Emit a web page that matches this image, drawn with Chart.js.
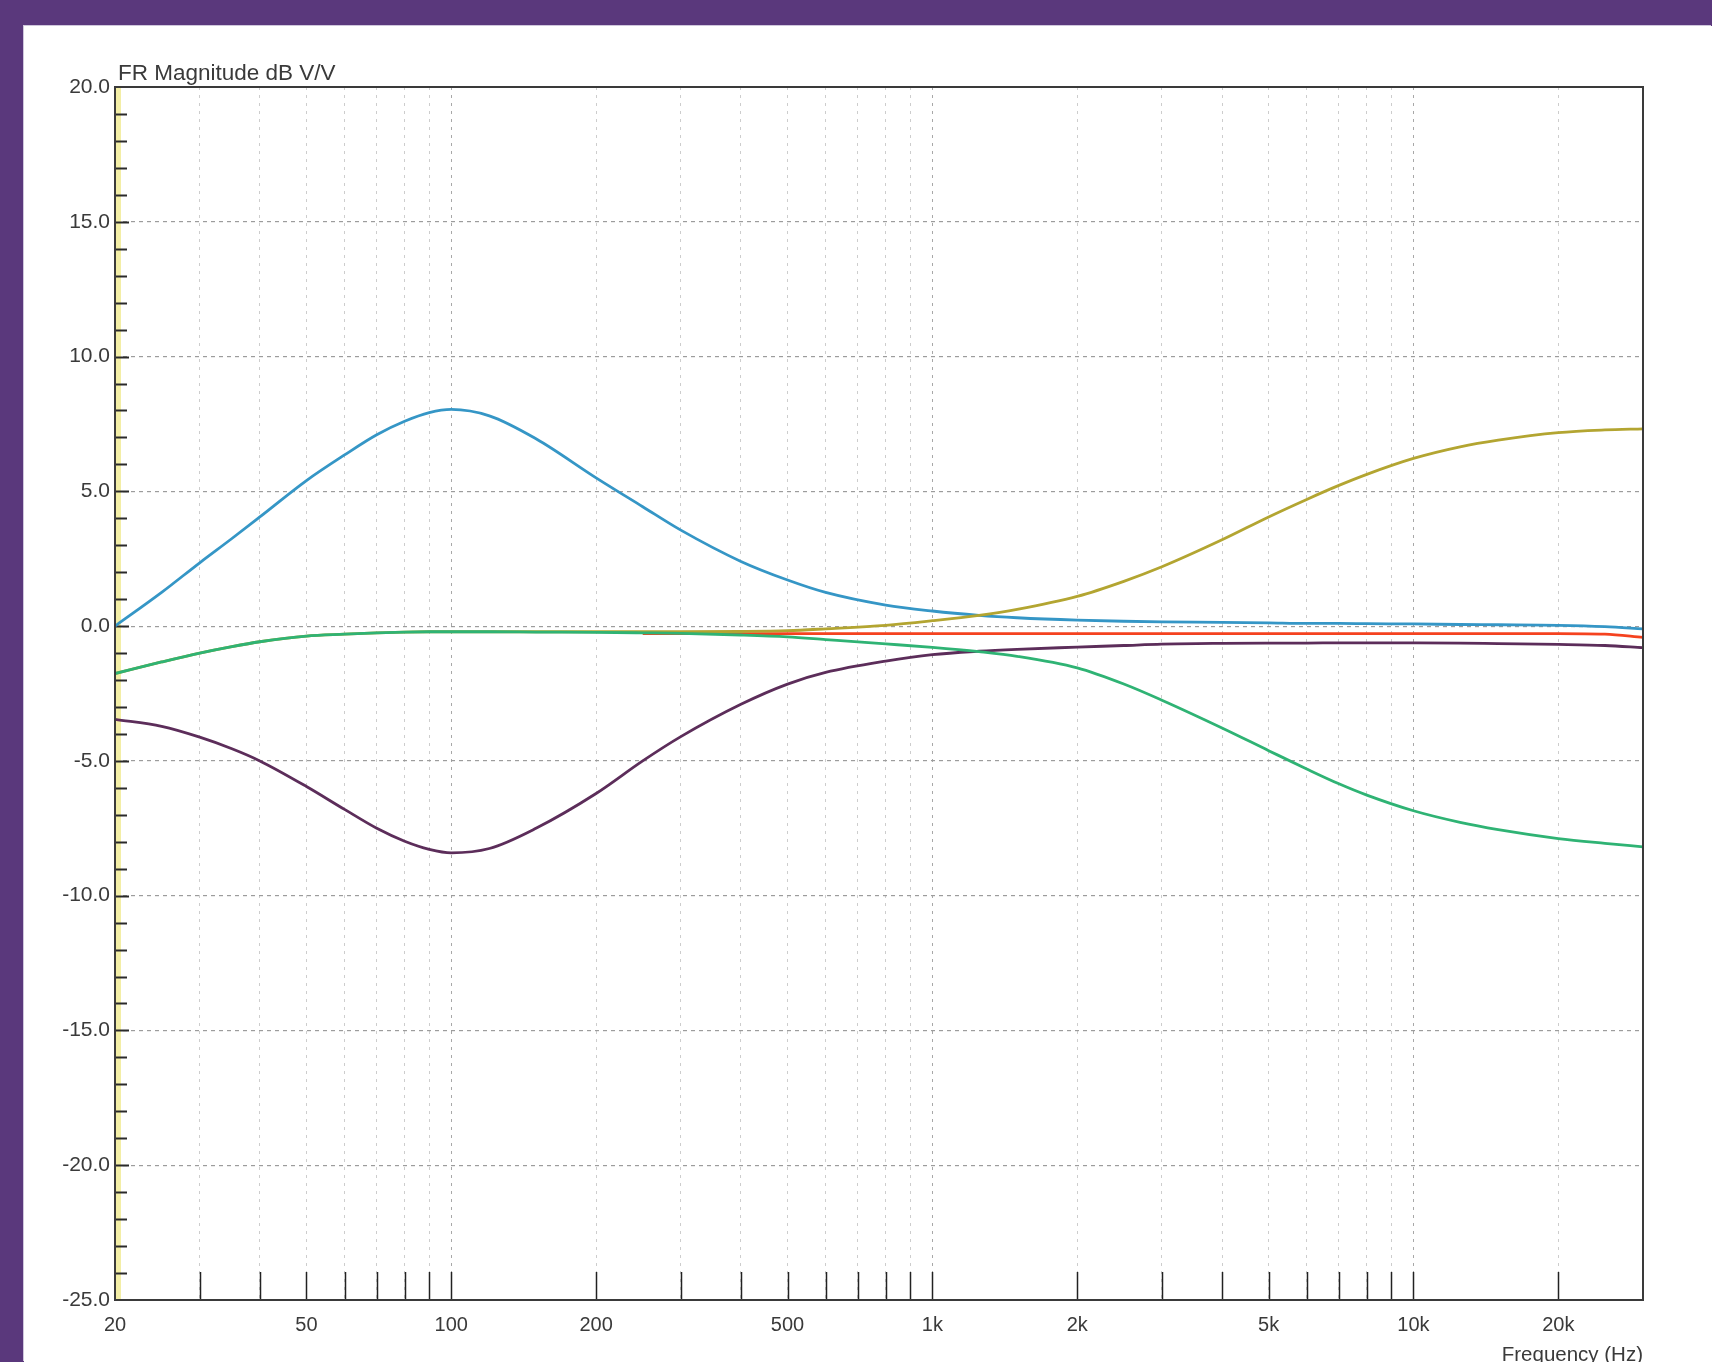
<!DOCTYPE html>
<html lang="en">
<head>
  <meta charset="UTF-8">
  <title>FR Magnitude</title>
  <script src="https://cdn.jsdelivr.net/npm/chart.js"></script>
  <style>
    html, body { margin: 0; padding: 0; }
    body { width: 1712px; height: 1362px; background: #5a387c; position: relative; overflow: hidden; }
    .panel { position: absolute; left: 24px; top: 26px; right: 0; bottom: 0; background: #fff; box-shadow: -1px -1px 0 #cfc6dc; }
    #chart { position: absolute; left: 0; top: 0; }
  </style>
</head>
<body>
<div class="panel"></div>
<canvas id="chart" width="1712" height="1362"></canvas>

<script>
  // frequencies (Hz) the curves were read at
  const freqs = [20, 25, 30, 35, 40, 50, 60, 70, 80, 90, 100, 120, 150, 200, 250, 300, 400, 500, 600, 800,
    1000, 1250, 1500, 2000, 2500, 3000, 4000, 5000, 6000, 7000, 8000, 10000, 12500, 15000, 20000, 25000, 30000];

  // dB values
  const bassBoost = [0.0, 1.25, 2.35, 3.25, 4.05, 5.4, 6.35, 7.1, 7.6, 7.92, 8.04, 7.8, 6.95, 5.5, 4.43, 3.56, 2.4, 1.71, 1.25, 0.78,
    0.56, 0.4, 0.31, 0.22, 0.18, 0.16, 0.14, 0.12, 0.1, 0.1, 0.09, 0.08, 0.06, 0.05, 0.03, -0.02, -0.1];
  const bassCut = [-3.46, -3.72, -4.12, -4.55, -5.0, -5.95, -6.8, -7.5, -7.98, -8.28, -8.41, -8.25, -7.5, -6.21, -5.0, -4.1, -2.9, -2.15, -1.72, -1.3,
    -1.06, -0.93, -0.86, -0.78, -0.72, -0.67, -0.64, -0.63, -0.63, -0.62, -0.62, -0.62, -0.63, -0.65, -0.68, -0.72, -0.8];
  // low end hidden under the green curve
  const trebleBoost = [-1.76, -1.33, -1.0, -0.76, -0.58, -0.37, -0.3, -0.25, -0.22, -0.21, -0.21, -0.21, -0.21, -0.21, -0.21, -0.21, -0.2, -0.17, -0.1, 0.03,
    0.2, 0.4, 0.62, 1.1, 1.66, 2.2, 3.2, 4.05, 4.7, 5.22, 5.63, 6.22, 6.65, 6.9, 7.18, 7.28, 7.32];
  const trebleCut = [-1.76, -1.33, -1.0, -0.76, -0.58, -0.37, -0.3, -0.25, -0.22, -0.21, -0.21, -0.21, -0.22, -0.23, -0.25, -0.27, -0.33, -0.4, -0.5, -0.66,
    -0.79, -0.95, -1.12, -1.55, -2.15, -2.75, -3.78, -4.62, -5.3, -5.85, -6.27, -6.85, -7.28, -7.55, -7.88, -8.06, -8.19];
  const flat = [null, null, null, null, null, null, null, null, null, null, null, null, null, null, -0.28, -0.28, -0.28, -0.28, -0.28, -0.28,
    -0.28, -0.28, -0.28, -0.28, -0.28, -0.28, -0.28, -0.28, -0.28, -0.28, -0.28, -0.28, -0.28, -0.28, -0.28, -0.3, -0.42];

  // axis ticks
  const xTicks = [20, 30, 40, 50, 60, 70, 80, 90, 100, 200, 300, 400, 500, 600, 700, 800, 900,
    1000, 2000, 3000, 4000, 5000, 6000, 7000, 8000, 9000, 10000, 20000, 30000];
  const xLabels = { 20: '20', 50: '50', 100: '100', 200: '200', 500: '500', 1000: '1k', 2000: '2k', 5000: '5k', 10000: '10k', 20000: '20k' };
  const yMin = -25, yMax = 20, yStep = 5;

  const pts = arr => freqs.map((f, i) => ({ x: f, y: arr[i] }));
  const line = (data, color) => ({ data: pts(data), borderColor: color, borderWidth: 2.8, pointRadius: 0, cubicInterpolationMode: 'monotone', fill: false });

  const FONT = '"Liberation Sans", Arial, sans-serif';

  const decor = {
    id: 'decor',
    beforeDatasetsDraw(chart) {
      const { ctx, chartArea: a, scales: { x, y } } = chart;
      ctx.save();
      // pale strip along the left axis
      ctx.fillStyle = '#f3eea6';
      ctx.fillRect(a.left + 1, a.top, 5, a.bottom - a.top);
      // 1 dB ticks
      ctx.strokeStyle = '#2a2a2a';
      ctx.lineWidth = 2;
      for (let v = yMin + 1; v < yMax; v++) {
        const py = Math.round(y.getPixelForValue(v)) + 0.5;
        ctx.beginPath();
        ctx.moveTo(a.left, py);
        ctx.lineTo(a.left + (v % 5 === 0 ? 14 : 12), py);
        ctx.stroke();
      }
      // frequency ticks pointing up from the bottom axis
      ctx.strokeStyle = '#222';
      ctx.lineWidth = 1.5;
      xTicks.slice(1, -1).forEach(f => {
        const px = Math.round(x.getPixelForValue(f)) + 0.5;
        ctx.beginPath();
        ctx.moveTo(px, a.bottom);
        ctx.lineTo(px, a.bottom - 28);
        ctx.stroke();
      });
      ctx.restore();
    },
    afterDatasetsDraw(chart) {
      const { ctx, chartArea: a } = chart;
      ctx.save();
      ctx.strokeStyle = '#3a3a3a';
      ctx.lineWidth = 2;
      ctx.strokeRect(a.left, a.top, a.right - a.left, a.bottom - a.top);
      ctx.fillStyle = '#3a3a3a';
      ctx.font = '22.5px ' + FONT;
      ctx.textAlign = 'left';
      ctx.textBaseline = 'alphabetic';
      ctx.fillText('FR Magnitude dB V/V', a.left + 3, a.top - 7);
      ctx.font = '20.5px ' + FONT;
      ctx.textAlign = 'right';
      ctx.fillText('Frequency (Hz)', a.right, 1361);
      ctx.restore();
    }
  };

  new Chart(document.getElementById('chart'), {
    type: 'line',
    data: {
      datasets: [
        line(trebleCut, '#2fb374'),
        line(trebleBoost, '#b3a531'),
        line(bassBoost, '#3596c6'),
        line(bassCut, '#5c2d5a'),
        line(flat, '#f5421f')
      ]
    },
    options: {
      responsive: false,
      devicePixelRatio: 1,
      animation: false,
      layout: { padding: { left: 0, top: 87, right: 69, bottom: 0 } },
      plugins: { legend: { display: false }, tooltip: { enabled: false } },
      scales: {
        x: {
          type: 'logarithmic',
          min: 20,
          max: 30000,
          afterBuildTicks: s => { s.ticks = xTicks.map(v => ({ value: v })); },
          afterFit: s => { s.height = 62; },
          grid: {
            drawTicks: false,
            lineWidth: 1,
            color: c => {
              const v = c.tick && c.tick.value;
              if (v === 20 || v === 30000) return 'transparent';
              return [100, 1000, 10000].includes(v) ? '#a8a8a8' : '#cdcdcd';
            }
          },
          border: { display: false, dash: [3, 5] },
          ticks: {
            autoSkip: false,
            maxRotation: 0,
            padding: 13,
            color: '#3a3a3a',
            font: { family: FONT, size: 20 },
            callback: v => xLabels[v] || ''
          }
        },
        y: {
          min: yMin,
          max: yMax,
          afterFit: s => { s.width = 115; },
          grid: {
            drawTicks: false,
            lineWidth: 1.2,
            color: c => (c.tick && (c.tick.value === yMin || c.tick.value === yMax)) ? 'transparent' : '#9c9c9c'
          },
          border: { display: false, dash: [4, 4] },
          ticks: {
            stepSize: yStep,
            padding: 5,
            color: '#3a3a3a',
            font: { family: FONT, size: 21 },
            callback: v => v.toFixed(1)
          }
        }
      }
    },
    plugins: [decor]
  });
</script>
</body>
</html>
